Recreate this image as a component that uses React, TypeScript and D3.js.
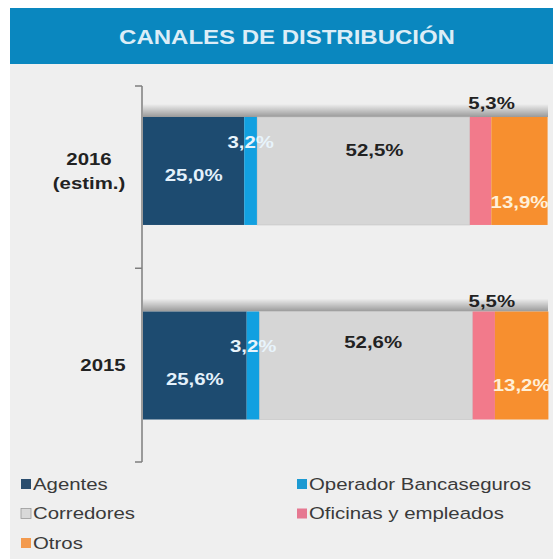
import React from 'react';
import * as d3 from 'd3';

const categories = ['2016 (estim.)', '2015'];
const categoryLines = [['2016', '(estim.)'], ['2015']];
const seriesNames = ['Agentes', 'Operador Bancaseguros', 'Corredores', 'Oficinas y empleados', 'Otros'];
const agentes = [25.0, 25.6];
const bancaseguros = [3.2, 3.2];
const corredores = [52.5, 52.6];
const oficinas = [5.3, 5.5];
const otros = [13.9, 13.2];
const valueLabels = [
  ['25,0%', '3,2%', '52,5%', '5,3%', '13,9%'],
  ['25,6%', '3,2%', '52,6%', '5,5%', '13,2%'],
];
const title = 'CANALES DE DISTRIBUCIÓN';

const colors = ['#1d4b70', '#12a0e0', '#d6d6d6', '#f27a8b', '#f78f2f'];
const labelColors = ['#e4f1fb', '#e8f4fc', '#222222', '#222222', '#fff0d8'];
const legendColors = ['#2a4d6e', '#1c9ad2', '#d9d9d9', '#e67891', '#f39a4e'];

// hand-placed label offsets (dx, dy from segment centre), like the original
const labelOffsets = [
  [[0, 4], [0, -29], [11, -21], [11, -68], [0, 31]],
  [[0, 14], [0, -19], [7, -23], [8, -64], [0, 20]],
];

const W = 553;
const H = 559;
const SX = 1.2; // source text is stretched horizontally

export default function App() {
  const rows = categories.map((c, i) => ({
    cat: c,
    [seriesNames[0]]: agentes[i],
    [seriesNames[1]]: bancaseguros[i],
    [seriesNames[2]]: corredores[i],
    [seriesNames[3]]: oficinas[i],
    [seriesNames[4]]: otros[i],
  }));
  const stacked = d3.stack<any>().keys(seriesNames)(rows);

  const x = d3.scaleLinear().domain([0, 100]).range([143, 548]);
  const y = d3.scaleBand().domain(categories).range([117, 419.5]).paddingInner(0.445).paddingOuter(0);
  const axisX = 142;
  const bw = y.bandwidth();
  const axisTop = 86;
  const axisBottom = 462;
  const midTick = ((y(categories[0]) as number) + bw + (y(categories[1]) as number)) / 2;

  const txt = (tx: number, ty: number) => `translate(${tx},${ty}) scale(${SX},1)`;

  const legendPos = (i: number) => ({ lx: i % 2 === 0 ? 21 : 297, ly: 484 + Math.floor(i / 2) * 29.5 });

  return (
    <div style={{ position: 'absolute', left: 0, top: 0 }}>
      <svg width={W} height={H} style={{ display: 'block', fontFamily: 'Liberation Sans, Arial, sans-serif' }}>
        <defs>
          <linearGradient id="shade" x1="0" y1="0" x2="0" y2="1">
            <stop offset="0%" stopColor="#000" stopOpacity="0" />
            <stop offset="100%" stopColor="#000" stopOpacity="0.36" />
          </linearGradient>
        </defs>
        <rect x={0} y={0} width={W} height={H} fill="#ffffff" />
        <rect x={10} y={8} width={W - 10} height={H - 8} fill="#efefef" />
        <rect x={10} y={8} width={W - 10} height={56} fill="#0a87bf" />
        <text transform={txt(287, 44)} textAnchor="middle" fontSize={20} fontWeight="bold" fill="#dcedf7">
          {title}
        </text>

        {/* shadow above each bar */}
        {categories.map((c) => (
          <rect key={'sh' + c} x={x(0)} y={(y(c) as number) - 13} width={x(100) - x(0)} height={13} fill="url(#shade)" />
        ))}

        {stacked.map((s, si) => (
          <g key={s.key} fill={colors[si]}>
            {s.map((d, ci) => (
              <rect
                key={ci}
                x={x(d[0])}
                y={y(categories[ci])}
                width={x(d[1]) - x(d[0])}
                height={bw}
                stroke={si === 2 ? '#c4c4c4' : 'none'}
                strokeWidth={0.6}
              />
            ))}
          </g>
        ))}

        {stacked.map((s, si) =>
          s.map((d, ci) => {
            const cx = (x(d[0]) + x(d[1])) / 2 + labelOffsets[ci][si][0];
            const cy = (y(categories[ci]) as number) + bw / 2 + labelOffsets[ci][si][1];
            return (
              <text
                key={'l' + si + ci}
                transform={txt(cx, cy)}
                textAnchor="middle"
                dominantBaseline="central"
                fontSize={17}
                fontWeight="bold"
                fill={labelColors[si]}
              >
                {valueLabels[ci][si]}
              </text>
            );
          })
        )}

        {/* category axis */}
        <line x1={axisX} x2={axisX} y1={axisTop} y2={axisBottom} stroke="#7e7e7e" strokeWidth={1.5} />
        {[axisTop, midTick, axisBottom].map((ty, i) => (
          <line key={'t' + i} x1={axisX - 7} x2={axisX} y1={ty} y2={ty} stroke="#7e7e7e" strokeWidth={1.5} />
        ))}
        {categories.map((c, ci) => {
          const lines = categoryLines[ci];
          const cy = (y(c) as number) + bw / 2;
          const lh = 24;
          const cx = lines.length > 1 ? 89 : 103;
          return lines.map((ln, li) => (
            <text
              key={c + li}
              transform={txt(cx, cy + (li - (lines.length - 1) / 2) * lh)}
              textAnchor="middle"
              dominantBaseline="central"
              fontSize={17}
              fontWeight="bold"
              fill="#222"
            >
              {ln}
            </text>
          ));
        })}

        {/* legend */}
        {seriesNames.map((n, i) => {
          const { lx, ly } = legendPos(i);
          return (
            <g key={'lg' + n}>
              <rect x={lx} y={ly - 5} width={10} height={10} fill={legendColors[i]} stroke={i === 2 ? '#9a9a9a' : 'none'} strokeWidth={0.8} />
              <text transform={txt(lx + 12, ly)} dominantBaseline="central" fontSize={17} fill="#3a3a3a">
                {n}
              </text>
            </g>
          );
        })}
      </svg>
    </div>
  );
}
